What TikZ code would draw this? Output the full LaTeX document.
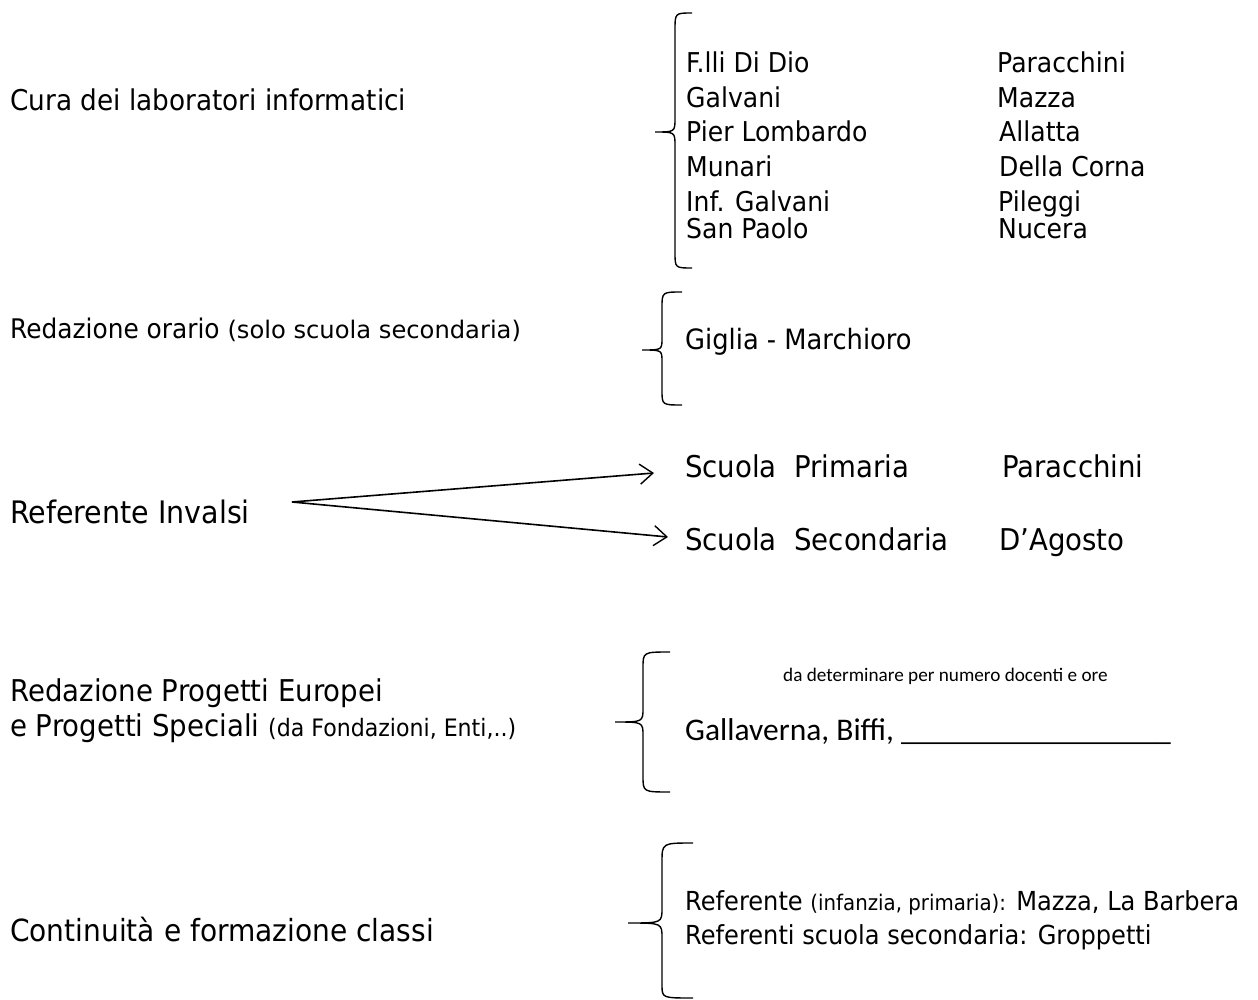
\documentclass[tikz,border=0pt]{standalone}
\usepackage{fontspec}
\usetikzlibrary{arrows.meta}
\newfontfamily\tahfont{DejaVu Sans}[FakeStretch=0.92]
\newfontfamily\dvfont{DejaVu Sans}
\newfontfamily\calfont{Carlito}
\begin{document}
\begin{tikzpicture}[x=1pt,y=-1pt,
  lbl/.style={anchor=base west,inner sep=0pt,font=\tahfont\fontsize{30}{34}\selectfont},
  itm/.style={anchor=base west,inner sep=0pt,font=\tahfont\fontsize{27.3}{31}\selectfont},
  sch/.style={anchor=base west,inner sep=0pt,font=\tahfont\fontsize{30}{34}\selectfont},
  refl/.style={anchor=base west,inner sep=0pt,font=\tahfont\fontsize{26.2}{30}\selectfont},
  cit/.style={anchor=base west,inner sep=0pt,font=\calfont\fontsize{31.5}{36}\selectfont},
  brace/.style={line width=1.4pt,black},
  arr/.style={line width=1.6pt,-{Straight Barb[length=13pt,width=20pt,line width=1.4pt]}}]
\useasboundingbox (0,0) rectangle (1258,1000);
% left labels
\node[lbl,font=\tahfont\fontsize{28.6}{33}\selectfont] (cura) at (10,111) {Cura dei laboratori informatici};
\node[lbl,font=\tahfont\fontsize{27}{31}\selectfont] (orario) at (10,338) {Redazione orario {\dvfont\fontsize{24.2}{27}\selectfont(solo scuola secondaria)}};
\node[lbl,font=\tahfont\fontsize{31}{35}\selectfont] (inv) at (10,523) {Referente Invalsi};
\node[lbl] (euro1) at (10,701) {Redazione Progetti Europei};
\node[lbl] (euro2) at (10,736) {e Progetti Speciali {\fontsize{24}{27}\selectfont(da Fondazioni, Enti,..)}};
\node[lbl,font=\tahfont\fontsize{30.5}{35}\selectfont] (cont) at (10,941) {Continuità e formazione classi};
% brace 1
\draw[brace] (692,13) .. controls (675,13) .. (675,30) -- (675,118) .. controls (675,132) .. (655,132) .. controls (675,132) .. (675,146) -- (675,252) .. controls (675,268) .. (692,268);
\node[itm] (l1) at (686,73) {F.lli Di Dio};
\node[itm] (l2) at (686,108) {Galvani};
\node[itm] (l3) at (686,142) {Pier Lombardo};
\node[itm] (l4) at (686,177) {Munari};
\node[itm] (l5) at (686,212) {Inf. Galvani};
\node[itm] (l6) at (686,239) {San Paolo};
\node[itm] (r1) at (997,73) {Paracchini};
\node[itm] (r2) at (997,108) {Mazza};
\node[itm] (r3) at (999,142) {Allatta};
\node[itm] (r4) at (999,177) {Della Corna};
\node[itm] (r5) at (998,212) {Pileggi};
\node[itm] (r6) at (998,239) {Nucera};
% brace 2
\draw[brace] (682,292) .. controls (662,292) .. (662,308) -- (662,338) .. controls (662,350) .. (642,350) .. controls (662,350) .. (662,362) -- (662,390) .. controls (662,405) .. (682,405);
\node[sch,font=\tahfont\fontsize{28}{32}\selectfont] (giglia) at (685,349) {Giglia - Marchioro};
% invalsi
\node[sch] (prim) at (685,477) {Scuola\ \ Primaria};
\node[sch] (primn) at (1002,477) {Paracchini};
\node[sch] (sec) at (685,550) {Scuola\ \ Secondaria};
\node[sch] (secn) at (999,550) {D’Agosto};
\coordinate (invs) at (292,502);
\coordinate (e1) at (654,473);
\coordinate (e2) at (668,537);
\draw[arr] (invs) -- (e1);
\draw[arr] (invs) -- (e2);
% brace 4
\draw[brace] (670,652) .. controls (643,652) .. (643,668) -- (643,708) .. controls (643,722) .. (615,722) .. controls (643,722) .. (643,736) -- (643,776) .. controls (643,792) .. (670,792);
\node[anchor=base west,inner sep=0pt,font=\calfont\fontsize{19.2}{22}\selectfont] (det) at (783,681) {da determinare per numero docenti e ore};
\node[cit] (gall) at (685,740) {Gallaverna, Biffi, {\fontsize{30.1}{34}\selectfont\_\_\_\_\_\_\_\_\_\_\_\_\_\_\_\_\_\_}};
% brace 5
\draw[brace] (693,843) .. controls (662,843) .. (662,862) -- (662,908) .. controls (662,923) .. (628,923) .. controls (662,923) .. (662,938) -- (662,985) .. controls (662,998) .. (693,998);
\node[refl] (ref1) at (685,910) {Referente {\fontsize{21.5}{24}\selectfont(infanzia, primaria):} Mazza, La Barbera};
\node[refl] (ref2) at (685,944) {Referenti scuola secondaria: Groppetti};
\end{tikzpicture}
\end{document}
